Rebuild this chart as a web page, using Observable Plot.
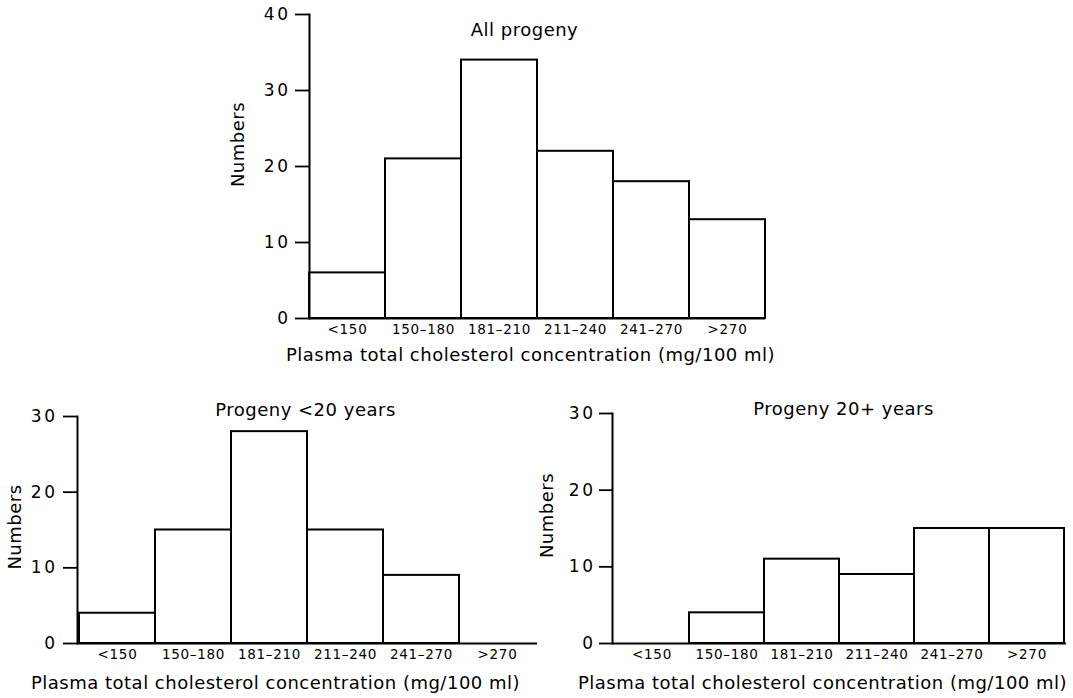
<!DOCTYPE html>
<html>
<head>
<meta charset="utf-8">
<script src="https://cdn.jsdelivr.net/npm/d3@7"></script>
<script src="https://cdn.jsdelivr.net/npm/@observablehq/plot@0.6"></script>
<style>
  html, body { margin: 0; padding: 0; background: #fff; }
  #root { position: relative; width: 1073px; height: 698px; overflow: hidden; background: #fff; }
  #root > div { position: absolute; }
  #root svg { background: transparent !important; overflow: visible; font-family: "DejaVu Sans", sans-serif; }
</style>
</head>
<body>
<div id="root"></div>
<script>
// ---- data ----
const bins = ["<150", "150–180", "181–210", "211–240", "241–270", ">270"];
const allProgeny = [6, 21, 34, 22, 18, 13];
const under20 = [4, 15, 28, 15, 9, 0];
const over20 = [0, 4, 11, 9, 15, 15];
const yTicksTop = [0, 10, 20, 30, 40];
const yTicksBottom = [0, 10, 20, 30];
const titles = ["All progeny", "Progeny <20 years", "Progeny 20+ years"];
const xTitle = "Plasma total cholesterol concentration (mg/100 ml)";
const yTitle = "Numbers";

function panel(values, ticks, title, o) {
  const data = bins.map((b, i) => ({bin: b, count: values[i]}));
  const ymax = ticks[ticks.length - 1];
  const svg = Plot.plot({
    width: o.width, height: o.height,
    marginLeft: o.ml, marginRight: o.mr, marginTop: o.mt, marginBottom: o.mb,
    style: {fontFamily: "DejaVu Sans", color: "black", background: "transparent"},
    x: {domain: bins, padding: 0, axis: null},
    y: {domain: [0, ymax], axis: null},
    marks: [
      Plot.barY(data, {x: "bin", y: "count", fill: "white", stroke: "black", strokeWidth: 2}),
      Plot.ruleY([0], {stroke: "black", strokeWidth: 2}),
      Plot.frame({anchor: "left", stroke: "black", strokeWidth: 2}),
      Plot.axisY({ticks, tickSize: o.tickSize, tickPadding: o.tickPad, fontSize: 17, strokeWidth: 1.8, label: null}),
      Plot.axisX({tickSize: 0, tickPadding: 6, fontSize: 13.5, label: null}),
      Plot.text([title], {text: d => d, frameAnchor: "top", lineAnchor: "middle", dx: o.tdx, dy: o.tdy, fontSize: 18}),
      Plot.text([xTitle], {text: d => d, frameAnchor: "bottom", lineAnchor: "middle", dx: o.xdx, dy: o.xdy, fontSize: 18}),
      Plot.text([yTitle], {text: d => d, frameAnchor: "left", textAnchor: "middle", lineAnchor: "middle", rotate: -90, dx: o.ydx, dy: o.ydy, fontSize: 18})
    ]
  });
  // typographic adjustments (font sizes / letter spacing of tick labels and titles)
  d3.select(svg).selectAll('g[aria-label="y-axis tick label"]')
    .attr("font-size", 17).style("font-size", "17px").style("letter-spacing", "2.5px");
  d3.select(svg).selectAll('g[aria-label="x-axis tick label"]')
    .attr("font-size", 13.5).style("font-size", "13.5px").style("letter-spacing", "0.7px");
  d3.select(svg).selectAll('g[aria-label="text"]').style("letter-spacing", "0.5px");
  return svg;
}

const root = document.getElementById("root");
function place(el, left, top) {
  const d = document.createElement("div");
  d.style.left = left + "px"; d.style.top = top + "px";
  d.appendChild(el); root.appendChild(d);
}

place(panel(allProgeny, yTicksTop, titles[0], {
  width: 600, height: 370, ml: 109, mr: 35, mt: 14, mb: 52,
  tickSize: 14, tickPad: 5, tdx: -13, tdy: 16, xdx: -7, xdy: 37, ydx: -71, ydy: -22
}), 200, 0);

place(panel(under20, yTicksBottom, titles[1], {
  width: 540, height: 318, ml: 77, mr: 3, mt: 36, mb: 55,
  tickSize: 14, tickPad: 6, tdx: -2, tdy: -6, xdx: -32, xdy: 40, ydx: -62, ydy: -3
}), 0, 380);

place(panel(over20, yTicksBottom, titles[2], {
  width: 533, height: 318, ml: 72, mr: 7, mt: 33, mb: 55,
  tickSize: 13, tickPad: 4, tdx: 4, tdy: -4, xdx: -17, xdy: 40, ydx: -65, ydy: -13
}), 540, 380);
</script>
</body>
</html>
